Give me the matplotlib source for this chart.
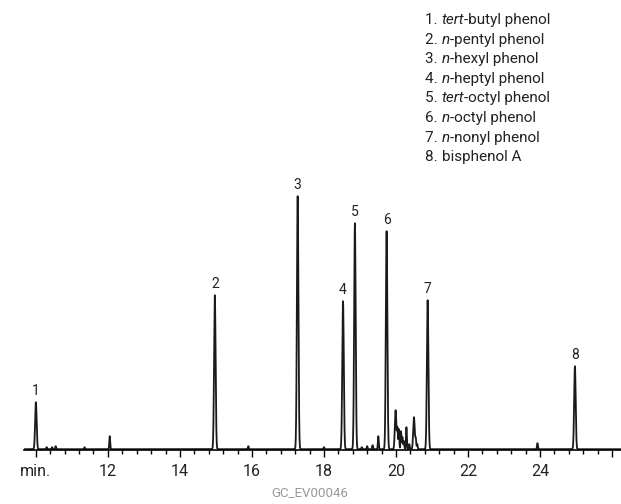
import numpy as np
import matplotlib.pyplot as plt

plt.rcParams['font.family'] = ['Roboto', 'DejaVu Sans']

# peak list (retention time in min, height in px above baseline)
peak_times = [10.0, 10.3, 10.45, 10.55, 11.35, 12.05, 14.97, 15.9, 17.27, 18.0,
              18.53, 18.86, 19.05, 19.2, 19.35, 19.51, 19.74, 19.99, 20.04, 20.08,
              20.14, 20.18, 20.22, 20.29, 20.37, 20.5, 20.55, 20.59, 20.88, 23.93, 24.97]
peak_heights = [47, 2, 2, 3, 2, 13, 154, 3, 253, 2,
                148, 226, 2, 3, 4, 13, 218, 39, 20, 20,
                18, 12, 8, 22, 5, 32, 10, 5, 149, 6, 83]

labels = ['1', '2', '3', '4', '5', '6', '7', '8']
label_times = [10.0, 14.97, 17.27, 18.53, 18.86, 19.74, 20.88, 24.97]
label_heights = [47, 154, 253, 148, 226, 218, 149, 83]

compounds = [('1. ', 'tert', '-butyl phenol'), ('2. ', 'n', '-pentyl phenol'),
             ('3. ', 'n', '-hexyl phenol'), ('4. ', 'n', '-heptyl phenol'),
             ('5. ', 'tert', '-octyl phenol'), ('6. ', 'n', '-octyl phenol'),
             ('7. ', 'n', '-nonyl phenol'), ('8. ', '', 'bisphenol A')]

tick_pos = [10, 12, 14, 16, 18, 20, 22, 24, 26]
tick_text = ['min.', '12', '14', '16', '18', '20', '22', '24', '']

fig = plt.figure(figsize=(6.21, 5.04), dpi=100)
W, H = 621, 504
ax = fig.add_axes([24 / W, 54 / H, 1 - 24 / W, 450 / H])

t = np.arange(9.67, 26.25, 0.002)
trace = np.full_like(t, 0.8)
for pt, ph in zip(peak_times, peak_heights):
    sig = 0.021 if ph > 30 else 0.012
    trace += ph * np.exp(-0.5 * ((t - pt) / sig) ** 2)
ax.plot(t, trace, color='#1a1a1a', lw=1.3)

for lab, lt, lh in zip(labels, label_times, label_heights):
    ax.text(lt, lh + 5, lab, ha='center', va='bottom', fontsize=10, color='#222')

ax.set_xlim(9.67, 26.25)
ax.set_ylim(0, 450)
for s in ['top', 'right', 'left']:
    ax.spines[s].set_visible(False)
ax.spines['bottom'].set_linewidth(1.2)
ax.set_yticks([])
ax.set_xticks(tick_pos)
ax.set_xticklabels(tick_text, fontsize=11.5, color='#222')
ax.set_xticks(np.arange(10, 26.2, 0.4), minor=True)
ax.tick_params(axis='x', which='major', length=5, width=1, pad=5, direction='out')
ax.tick_params(axis='x', which='minor', length=3, width=1, direction='out')

y0 = 20
for i, (num, it, rest) in enumerate(compounds):
    y = 1 - (y0 + i * 19.6) / H
    ax_t = fig.text(425 / W, y, num, fontsize=11, va='center', color='#222')
    fig.canvas.draw()
    bb = ax_t.get_window_extent()
    x = bb.x1 / W
    if it:
        t2 = fig.text(x, y, it, fontsize=11, style='italic', va='center', color='#222')
        bb = t2.get_window_extent()
        x = bb.x1 / W
    fig.text(x, y, rest, fontsize=11, va='center', color='#222')

fig.text(310 / W, 1 - 493 / H, 'GC_EV00046', fontsize=9.5, color='#999', ha='center', va='center')

fig.savefig('out.png', dpi=100)
